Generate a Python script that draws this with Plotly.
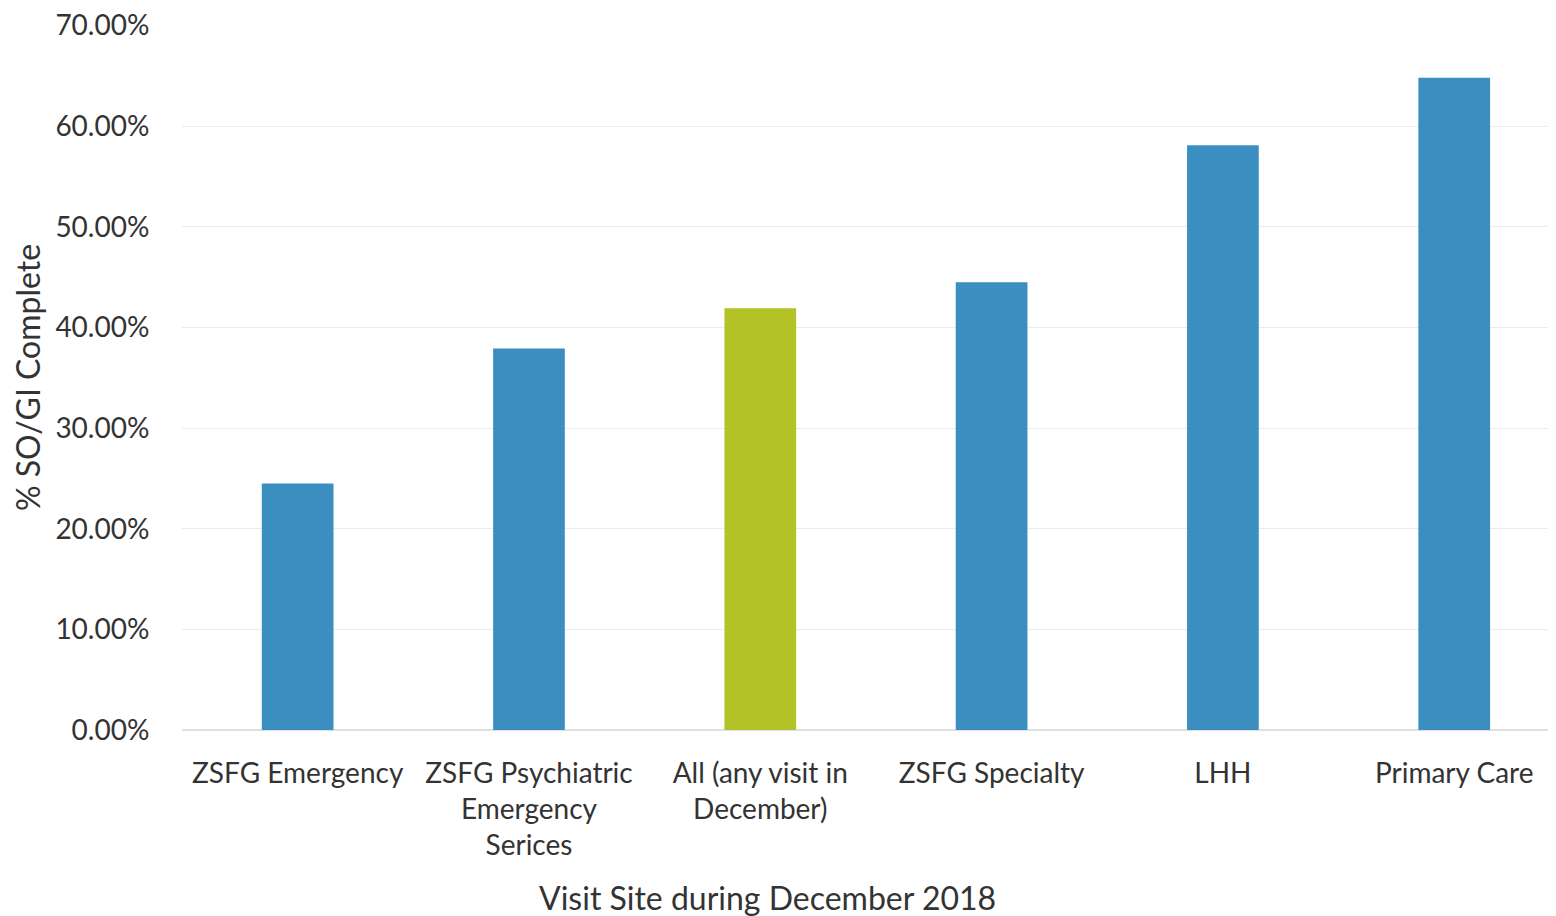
import plotly.graph_objects as go

categories = ["ZSFG Emergency", "ZSFG Psychiatric<br>Emergency<br>Serices", "All (any visit in<br>December)",
              "ZSFG Specialty", "LHH", "Primary Care"]
values = [24.5, 37.9, 41.9, 44.5, 58.1, 64.8]
colors = ["#3A8FC0", "#3A8FC0", "#B3C227", "#3A8FC0", "#3A8FC0", "#3A8FC0"]
y_ticks = [0, 10, 20, 30, 40, 50, 60, 70]
y_tick_labels = ["0.00%", "10.00%", "20.00%", "30.00%", "40.00%", "50.00%", "60.00%", "70.00%"]
x_title = "Visit Site during December 2018"

FONT = "Lato"
TXT = "#333333"

fig = go.Figure(go.Bar(
    x=list(range(len(categories))), y=values, marker=dict(color=colors, line=dict(width=0)),
    width=0.31,
))

W, H = 1556, 916
ml, mr, mt, mb = 174, 8, 17, 194

fig.update_layout(
    width=W, height=H,
    margin=dict(l=ml, r=mr, t=mt, b=mb, autoexpand=False),
    paper_bgcolor="white", plot_bgcolor="white",
    font=dict(family=FONT, size=28, color=TXT),
    showlegend=False,
    xaxis=dict(
        range=[-0.5, 5.44], tickmode="array", tickvals=list(range(len(categories))),
        ticktext=categories, showgrid=False, zeroline=False, showline=False,
        ticks="outside", ticklen=18, tickcolor="rgba(0,0,0,0)",
        tickfont=dict(family=FONT, size=28, color=TXT),
        tickangle=0, automargin=False,
    ),
    yaxis=dict(
        range=[0, 70.05], tickmode="array", tickvals=y_ticks, ticktext=y_tick_labels,
        showgrid=True, gridcolor="#EBEBEB", gridwidth=1, zeroline=True, zerolinecolor="#E0E0E0",
        showline=False, ticks="outside", ticklen=26, tickcolor="rgba(0,0,0,0)",
        tickfont=dict(family=FONT, size=28, color=TXT), ticklabeloverflow="allow",
        automargin=False,
        title=dict(text="% SO/GI Complete", font=dict(family=FONT, size=32, color=TXT), standoff=10),
    ),
    annotations=[dict(
        text=x_title, xref="paper", yref="paper",
        x=(767 - 8 - ml) / (W - ml - mr), y=-(898 - 8 - (H - mb)) / (H - mt - mb),
        xanchor="center", yanchor="middle", showarrow=False,
        font=dict(family=FONT, size=32, color=TXT),
    )],
)

fig.write_html("out.html")
